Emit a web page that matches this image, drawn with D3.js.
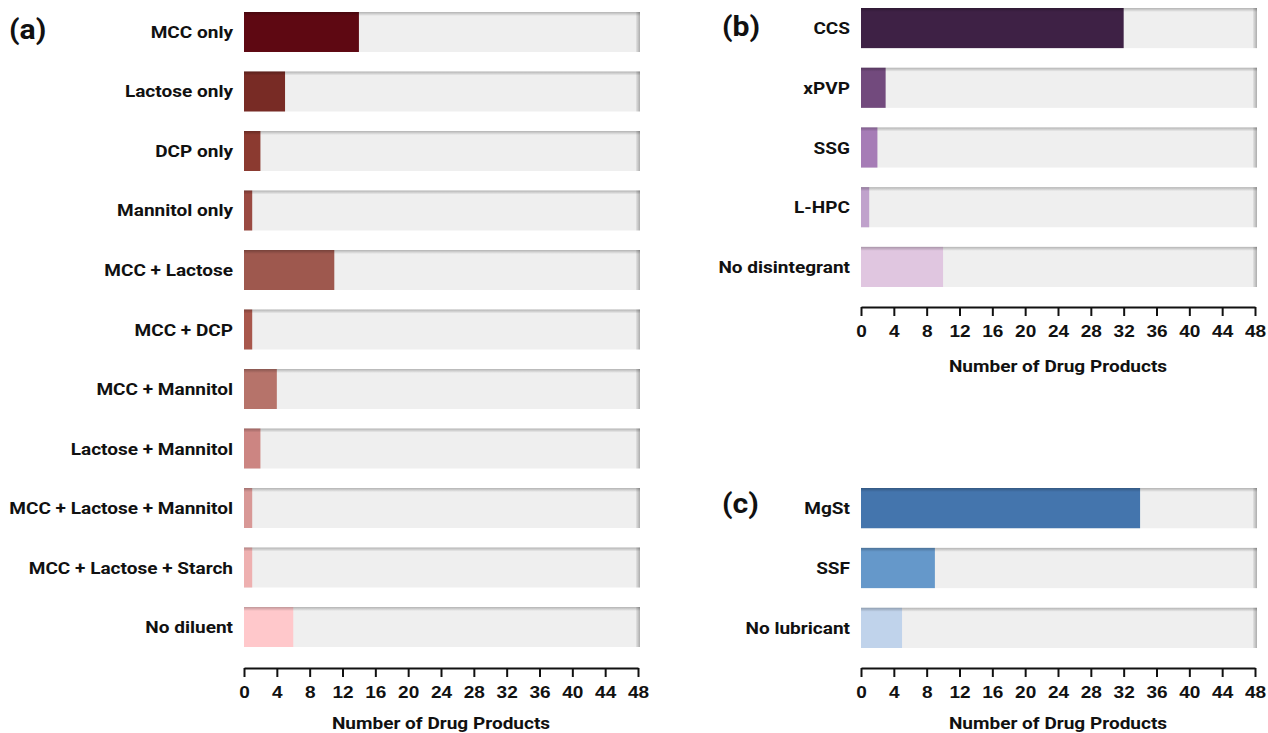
<!DOCTYPE html>
<html><head><meta charset="utf-8">
<script src="https://cdn.jsdelivr.net/npm/d3@7"></script>
<style>
body{margin:0;background:#fff;}
svg{display:block;font-family:Roboto, "Open Sans", sans-serif;}
</style></head>
<body><svg id="chart" width="1268" height="733"></svg>
<script>
// ---- data ----
const tickValues = [0,4,8,12,16,20,24,28,32,36,40,44,48];
const axisMax = 48;
const axisTitle = "Number of Drug Products";

const diluentCategories = ["MCC only","Lactose only","DCP only","Mannitol only","MCC + Lactose","MCC + DCP","MCC + Mannitol","Lactose + Mannitol","MCC + Lactose + Mannitol","MCC + Lactose + Starch","No diluent"];
const diluentValues = [14,5,2,1,11,1,4,2,1,1,6];
const diluentColors = ["#5e0812","#782b25","#8b3a30","#9a4a42","#9e584e","#a8574c","#b6736a","#cc8582","#d89896","#eeb0b0","#ffc8cb"];

const disintegrantCategories = ["CCS","xPVP","SSG","L-HPC","No disintegrant"];
const disintegrantValues = [32,3,2,1,10];
const disintegrantColors = ["#3e2145","#724a7d","#a67cb6","#c0a2cc","#e0c6e0"];

const lubricantCategories = ["MgSt","SSF","No lubricant"];
const lubricantValues = [34,9,5];
const lubricantColors = ["#4475ad","#6598ca","#c0d3eb"];

// ---- drawing ----
const svg = d3.select("#chart");
const defs = svg.append("defs");
const tg = defs.append("linearGradient").attr("id","topShade").attr("x1",0).attr("x2",0).attr("y1",0).attr("y2",1);
tg.append("stop").attr("offset","0%").attr("stop-color","#000").attr("stop-opacity",0.25);
tg.append("stop").attr("offset","100%").attr("stop-color","#000").attr("stop-opacity",0);
const rg = defs.append("linearGradient").attr("id","rightShade").attr("x1",0).attr("x2",1).attr("y1",0).attr("y2",0);
rg.append("stop").attr("offset","0%").attr("stop-color","#000").attr("stop-opacity",0.05);
rg.append("stop").attr("offset","100%").attr("stop-color","#000").attr("stop-opacity",0.28);

const SX = 1.12; // horizontal stretch of text to match the wide lettering

function stretchedText(parent, x, y, txt, size, anchor){
  return parent.append("g").attr("transform",`translate(${x},${y}) scale(${SX},1)`)
    .append("text").attr("text-anchor",anchor).attr("font-weight","bold")
    .attr("font-size",size).attr("fill","#111").text(txt);
}

function panel(o){
  const x = d3.scaleLinear().domain([0,axisMax]).range([o.x0,o.x1]);
  const y = d3.scaleBand().domain(o.cats).range([o.y0,o.y1]).paddingInner(0.328).paddingOuter(0);
  const g = svg.append("g");
  const rows = g.selectAll("g.row").data(o.cats.map((c,i)=>({c,v:o.vals[i],col:o.cols[i]}))).join("g");
  rows.append("rect").attr("x",x(0)).attr("y",d=>y(d.c)).attr("width",x(axisMax)-x(0)+2).attr("height",y.bandwidth()).attr("fill","#efefef");
  rows.append("rect").attr("x",x(axisMax)-2).attr("y",d=>y(d.c)).attr("width",4).attr("height",y.bandwidth()).attr("fill","url(#rightShade)");
  rows.append("rect").attr("x",x(0)).attr("y",d=>y(d.c)).attr("width",d=>x(d.v)-x(0)).attr("height",y.bandwidth()).attr("fill",d=>d.col);
  rows.append("rect").attr("x",x(0)).attr("y",d=>y(d.c)).attr("width",x(axisMax)-x(0)+2).attr("height",4).attr("fill","url(#topShade)");
  rows.each(function(d){
    stretchedText(d3.select(this), x(0)-11, y(d.c)+y.bandwidth()/2+6, d.c, 17, "end");
  });
  const ax = g.append("g").attr("transform",`translate(0,${o.axisY})`)
    .call(d3.axisBottom(x).tickValues(tickValues).tickSize(9).tickSizeOuter(0));
  ax.select(".domain").attr("stroke","#111").attr("stroke-width",2);
  ax.selectAll(".tick line").attr("stroke","#111").attr("stroke-width",2);
  ax.selectAll(".tick text").remove();
  ax.selectAll(".tick").each(function(v){
    stretchedText(d3.select(this), 0, 30, String(v), 17, "middle");
  });
  stretchedText(g, (o.x0+o.x1)/2, o.titleY, axisTitle, 17, "middle");
  stretchedText(g, o.lx, o.ly, o.letter, 27, "start");
}

panel({cats:diluentCategories,vals:diluentValues,cols:diluentColors,x0:244,x1:638,y0:12,y1:647,axisY:668,titleY:729,letter:"(a)",lx:9,ly:39});
panel({cats:disintegrantCategories,vals:disintegrantValues,cols:disintegrantColors,x0:861,x1:1255,y0:8,y1:287,axisY:307,titleY:372,letter:"(b)",lx:722,ly:36});
panel({cats:lubricantCategories,vals:lubricantValues,cols:lubricantColors,x0:861,x1:1255,y0:488,y1:648,axisY:668,titleY:729,letter:"(c)",lx:722,ly:513});
</script></body></html>
